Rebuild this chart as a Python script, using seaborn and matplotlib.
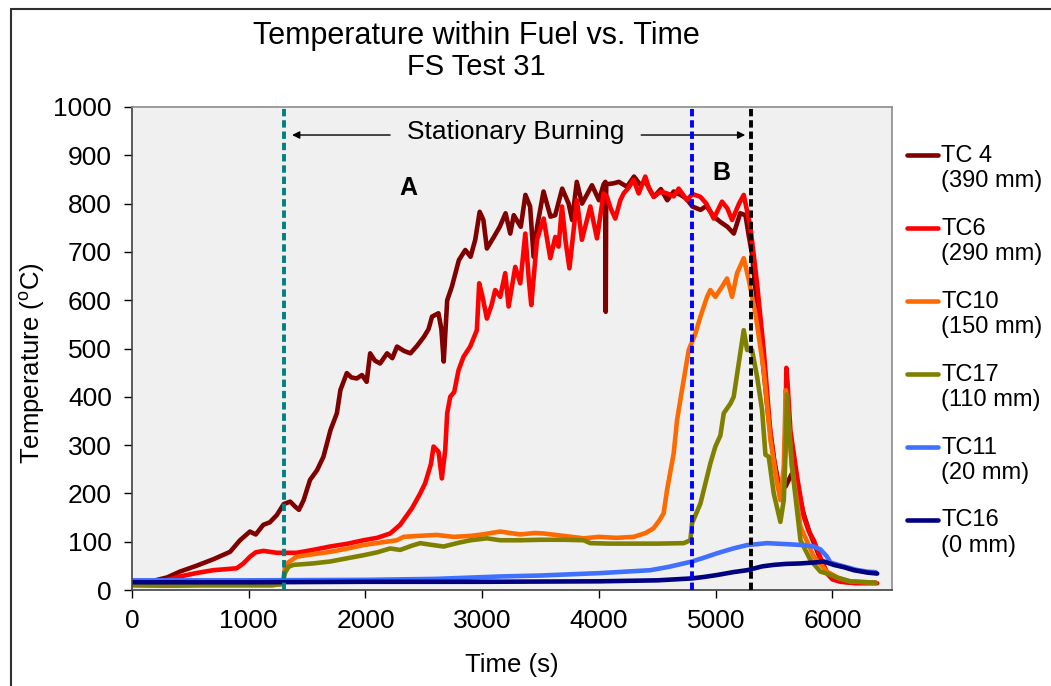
import numpy as np
import pandas as pd
import matplotlib
matplotlib.use("Agg")
import matplotlib.pyplot as plt
from matplotlib.lines import Line2D
from matplotlib.patches import Rectangle
import seaborn as sns

# ---- thermocouple records: time (s) and temperature (deg C) ----
tc4_time = [0, 150, 300, 410, 550, 700, 840, 925, 1010, 1060, 1125, 1180, 1240, 1300, 1355, 1400,
            1430, 1470, 1525, 1585, 1640, 1700, 1755, 1785, 1840, 1880, 1925, 1970, 2010, 2040,
            2080, 2125, 2185, 2230, 2270, 2330, 2385, 2440, 2500, 2540, 2570, 2625, 2650, 2670,
            2700, 2740, 2800, 2855, 2900, 2940, 2978, 3010, 3040, 3100, 3150, 3200, 3240, 3270,
            3330, 3370, 3410, 3440, 3470, 3525, 3585, 3625, 3685, 3740, 3770, 3810, 3855, 3900,
            3940, 4000, 4040, 4055, 4058, 4062, 4125, 4170, 4240, 4300, 4350, 4400, 4470, 4530,
            4585, 4640, 4700, 4750, 4800, 4870, 4920, 4985, 5040, 5100, 5155, 5210, 5255, 5285,
            5310, 5350, 5400, 5450, 5500, 5550, 5600, 5650, 5700, 5750, 5800, 5850, 5900, 5950,
            6000, 6100, 6200, 6370]
tc4_temp = [15, 17, 26, 38, 50, 64, 79, 103, 121, 115, 135, 140, 155, 178, 183, 172,
            166, 186, 228, 248, 276, 331, 366, 414, 449, 440, 438, 445, 431, 490,
            475, 469, 490, 480, 504, 495, 490, 505, 524, 540, 566, 573, 540, 473,
            600, 628, 683, 704, 690, 725, 783, 766, 707, 731, 752, 780, 738, 776,
            752, 818, 794, 690, 752, 825, 773, 776, 831, 800, 766, 845, 800, 820,
            838, 807, 840, 845, 576, 840, 842, 845, 835, 856, 840, 845, 814, 830,
            807, 825, 818, 810, 794, 787, 795, 773, 762, 752, 738, 780, 776, 731,
            697, 600, 480, 360, 270, 205, 215, 240, 215, 160, 122, 92, 62, 38,
            25, 17, 15, 15]

tc6_time = [0, 200, 411, 550, 697, 897, 954, 1011, 1060, 1126, 1240, 1411, 1550, 1697, 1850, 1983,
            2100, 2211, 2297, 2400, 2469, 2511, 2560, 2583, 2626, 2654, 2683, 2700, 2726, 2760,
            2797, 2840, 2897, 2954, 2974, 3000, 3040, 3080, 3111, 3154, 3197, 3226, 3283, 3326,
            3369, 3400, 3420, 3469, 3526, 3583, 3626, 3654, 3683, 3715, 3747, 3811, 3854, 3926,
            3983, 4040, 4069, 4100, 4140, 4183, 4211, 4260, 4297, 4340, 4397, 4430, 4469, 4530,
            4583, 4640, 4683, 4754, 4800, 4869, 4920, 4983, 5054, 5100, 5140, 5200, 5240, 5297,
            5354, 5411, 5469, 5510, 5550, 5580, 5595, 5605, 5615, 5640, 5700, 5754, 5800, 5840,
            5900, 5954, 6000, 6069, 6200, 6383]
tc6_temp = [12, 14, 28, 35, 41, 45, 55, 69, 78, 81, 77, 77, 83, 90, 96, 103,
            108, 117, 135, 170, 200, 221, 260, 297, 286, 231, 290, 366, 400, 410,
            455, 483, 504, 538, 635, 610, 562, 590, 621, 607, 656, 587, 669, 635,
            738, 640, 590, 725, 769, 687, 731, 711, 794, 720, 666, 807, 725, 794,
            728, 821, 814, 790, 769, 807, 821, 835, 849, 821, 856, 830, 814, 825,
            821, 815, 831, 807, 820, 814, 800, 769, 804, 790, 766, 800, 818, 752,
            635, 497, 324, 250, 200, 195, 300, 460, 430, 330, 230, 152, 120, 103,
            65, 34, 22, 17, 14, 14]

tc10_time = [0, 300, 600, 900, 1200, 1290, 1310, 1326, 1411, 1550, 1697, 1850, 1983, 2150, 2269,
             2326, 2450, 2611, 2754, 2900, 3000, 3154, 3326, 3450, 3526, 3700, 3869, 4000, 4150,
             4297, 4400, 4469, 4520, 4554, 4583, 4640, 4669, 4711, 4769, 4826, 4869, 4926, 4954,
             4997, 5054, 5097, 5140, 5183, 5240, 5283, 5340, 5411, 5469, 5526, 5554, 5583, 5600,
             5615, 5650, 5726, 5840, 5954, 6050, 6150, 6370]
tc10_temp = [10, 9, 10, 10, 10, 12, 45, 55, 69, 74, 79, 86, 93, 99, 103,
             110, 112, 114, 110, 112, 115, 121, 115, 118, 117, 112, 107, 110, 108,
             110, 118, 128, 145, 159, 207, 283, 352, 414, 497, 531, 566, 607, 621,
             607, 628, 645, 607, 656, 687, 642, 573, 455, 310, 221, 186, 255, 414,
             380, 260, 131, 69, 38, 25, 18, 15]

tc17_time = [0, 300, 600, 900, 1200, 1290, 1310, 1340, 1383, 1550, 1697, 1850, 1983, 2100, 2211,
             2297, 2400, 2469, 2550, 2669, 2800, 2900, 3040, 3154, 3326, 3500, 3700, 3869, 3926,
             4100, 4300, 4500, 4726, 4783, 4797, 4869, 4954, 4997, 5040, 5069, 5126, 5154, 5197,
             5240, 5269, 5311, 5354, 5397, 5426, 5454, 5497, 5554, 5583, 5597, 5611, 5630, 5654,
             5726, 5811, 5897, 5954, 6050, 6150, 6370]
tc17_temp = [10, 9, 10, 10, 10, 13, 35, 48, 52, 55, 59, 66, 72, 78, 86,
             83, 92, 97, 94, 90, 98, 103, 107, 103, 103, 104, 104, 103, 97,
             96, 96, 96, 97, 103, 138, 179, 262, 297, 320, 366, 386, 400, 469,
             538, 497, 497, 442, 373, 280, 276, 200, 141, 186, 276, 405, 330, 255,
             103, 62, 38, 34, 25, 18, 15]

tc11_time = [0, 1000, 2000, 2600, 3154, 3500, 4011, 4300, 4440, 4600, 4797, 4900, 5011, 5150, 5269,
             5440, 5600, 5750, 5840, 5897, 5950, 5983, 6050, 6126, 6200, 6297, 6370]
tc11_temp = [20, 20, 21, 23, 28, 30, 35, 39, 41, 48, 59, 67, 76, 86, 93,
             97, 95, 93, 90, 84, 70, 57, 52, 47, 42, 38, 37]

tc16_time = [0, 1000, 2000, 3000, 4011, 4500, 4797, 4900, 5011, 5150, 5269, 5400, 5497, 5600, 5726,
             5850, 5926, 6011, 6100, 6183, 6300, 6383]
tc16_temp = [16, 16, 17, 17, 18, 20, 24, 27, 31, 37, 41, 49, 52, 54, 55,
             57, 59, 52, 47, 41, 36, 34]

sensors = ["TC 4\n(390 mm)", "TC6\n(290 mm)", "TC10\n(150 mm)",
           "TC17\n(110 mm)", "TC11\n(20 mm)", "TC16\n(0 mm)"]
times = [tc4_time, tc6_time, tc10_time, tc17_time, tc11_time, tc16_time]
temps = [tc4_temp, tc6_temp, tc10_temp, tc17_temp, tc11_temp, tc16_temp]
colors = ["#800000", "#FF0000", "#FF6A00", "#808000", "#3F70FF", "#000080"]

# event markers (s)
t_start = 1300
t_b_start = 4800
t_end = 5300

x_ticks = [0, 1000, 2000, 3000, 4000, 5000, 6000]
y_ticks = [0, 100, 200, 300, 400, 500, 600, 700, 800, 900, 1000]

df = pd.concat(
    [pd.DataFrame({"time": t, "temp": v, "sensor": s}) for s, t, v in zip(sensors, times, temps)],
    ignore_index=True,
)

sns.set_theme(style="white")
plt.rcParams["font.family"] = ["Liberation Sans", "DejaVu Sans"]
plt.rcParams["mathtext.fontset"] = "custom"
plt.rcParams["mathtext.rm"] = "Liberation Sans"
plt.rcParams["text.color"] = "black"
plt.rcParams["axes.labelcolor"] = "black"
plt.rcParams["xtick.color"] = "black"
plt.rcParams["ytick.color"] = "black"

fig = plt.figure(figsize=(10.51, 6.86), dpi=100)
fig.patch.set_facecolor("white")
ax = fig.add_axes([132 / 1051, 1 - 590 / 686, 760 / 1051, 483 / 686])
ax.set_facecolor("#F0F0F0")

sns.lineplot(data=df, x="time", y="temp", hue="sensor", hue_order=sensors, palette=colors,
             estimator=None, sort=False, lw=3.3, legend=False, ax=ax)

# vertical event lines
for xv, c in [(t_start, "#008080"), (t_b_start, "#0000FF"), (t_end, "#000000")]:
    ax.axvline(xv, color=c, lw=2.8, ls=(0, (1.9, 1.0)), zorder=5)

ax.set_xlim(0, 6510)
ax.set_ylim(0, 1000)
ax.set_xticks(x_ticks)
ax.set_yticks(y_ticks)
ax.tick_params(axis="both", which="major", bottom=True, left=True, direction="out",
               length=6, width=1, color="black", labelsize=19)
ax.tick_params(axis="y", pad=8.5)
ax.tick_params(axis="x", pad=8)
for side in ["top", "right"]:
    ax.spines[side].set_color("#8C8C8C")
    ax.spines[side].set_linewidth(1.2)
for side in ["left", "bottom"]:
    ax.spines[side].set_color("#404040")
    ax.spines[side].set_linewidth(1.2)

ax.set_xlabel("Time (s)", fontsize=18.5, labelpad=14)
ax.set_ylabel(r"Temperature ($^{\mathrm{o}}$C)", fontsize=18.5)
ax.yaxis.set_label_coords(-0.112, 0.47)

# annotations
ax.text(3290, 948, "Stationary Burning", ha="center", va="center", fontsize=19)
arrow_kw = dict(arrowstyle="-|>", color="black", lw=1.0, mutation_scale=11, shrinkA=0, shrinkB=0)
ax.annotate("", xy=(1371, 942), xytext=(2211, 942), arrowprops=arrow_kw)
ax.annotate("", xy=(5253, 942), xytext=(4362, 942), arrowprops=arrow_kw)
ax.text(2365, 832, "A", ha="center", va="center", fontsize=18, fontweight="bold")
ax.text(5047, 863, "B", ha="center", va="center", fontsize=18, fontweight="bold")

# titles
fig.text(476 / 1051, 1 - 36 / 686, "Temperature within Fuel vs. Time", ha="center", va="center", fontsize=22)
fig.text(476 / 1051, 1 - 67 / 686, "FS Test 31", ha="center", va="center", fontsize=21)

# legend
handles = [Line2D([], [], color=c, lw=3.3) for c in colors]
leg = fig.legend(handles, sensors, loc="upper left", bbox_to_anchor=(907 / 1051, 1 - 145 / 686),
                 frameon=False, fontsize=17, borderpad=0, borderaxespad=0, handlelength=1.3,
                 handletextpad=0.15, labelspacing=1.08)
for h in leg.get_lines():
    h.set_ydata(np.asarray(h.get_ydata(), dtype=float) + 10)

# outer chart frame
fig.add_artist(Rectangle((11 / 1051, -0.05), 1.2, 1 - 9 / 686 + 0.05, transform=fig.transFigure,
                         fill=False, lw=1.5, ec="#303030"))

fig.savefig("out.png", dpi=100)
